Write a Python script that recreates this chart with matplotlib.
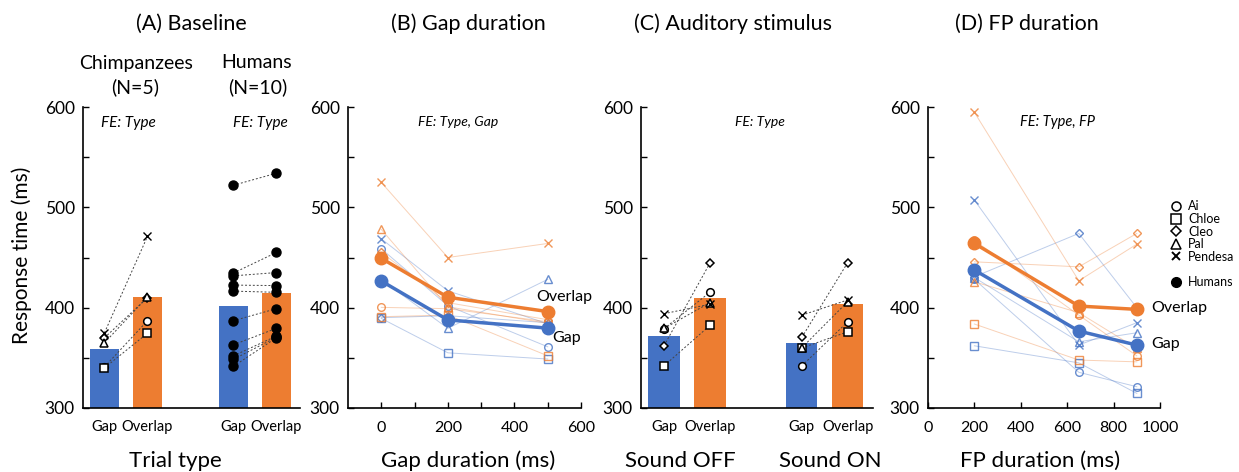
import matplotlib
matplotlib.use('Agg')
import matplotlib.pyplot as plt
from matplotlib.lines import Line2D
from matplotlib.ticker import MultipleLocator, FixedLocator

plt.rcParams['font.family'] = ['Lato', 'DejaVu Sans']

BLUE = '#4472C4'
ORANGE = '#ED7D31'

##########################################################
#_______________________Data_____________________________#

chimps = ['Ai', 'Chloe', 'Cleo', 'Pal', 'Pendesa']
chimp_markers = ['o', 's', 'D', '^', 'x']

# (A) Baseline
chimp_gap = [341, 340, 370, 365, 375]
chimp_ovl = [387, 374.5, 410, 410.6, 471]
chimp_bars = [359, 410.6]
human_gap = [522, 434.5, 431.7, 422.5, 416.5, 387, 363, 352, 348.5, 341.5]
human_ovl = [534, 455, 435, 422, 415.3, 399, 379.4, 371.7, 370.5, 370]
human_bars = [402, 415]
trial_labels = ['Gap', 'Overlap', 'Gap', 'Overlap']

# (B) Gap duration
gap_durations = [0, 200, 500]
gapB_ind = [[458.7, 401.9, 361], [389.3, 355, 348.8], [390, 392, 385],
            [428, 379.4, 428.2], [468.6, 416.8, 384]]
ovlB_ind = [[400.3, 399, 386], [391, 392.6, 352], [455, 405, 388],
            [478, 400.9, 384.4], [524.8, 450, 464]]
gapB_mean = [426.6, 387.8, 379.6]
ovlB_mean = [449.2, 410.4, 396.1]

# (C) Auditory stimulus
off_gap = [379, 342, 362, 379.3, 394]
off_ovl = [415.3, 382.3, 444.4, 405, 403.4]
on_gap = [342, 359.8, 370.4, 360, 392.5]
on_ovl = [385.9, 376, 445, 406, 407.7]
off_bars = [371.4, 409.7]
on_bars = [364.8, 404.1]

# (D) FP duration
fp_durations = [200, 650, 900]
gapD_ind = [[428.2, 335.6, 321.2], [362, 345, 314.6], [430.8, 474, 400],
            [430, 366, 375], [507.2, 362.7, 385]]
ovlD_ind = [[467, 392.6, 352], [383.7, 347.8, 346], [445.7, 440.7, 474],
            [425.8, 395, 359.5], [594.7, 426.8, 463.3]]
gapD_mean = [437.5, 376.7, 362.7]
ovlD_mean = [464, 401.6, 398.3]

##########################################################

W, H = 1239, 472
fig = plt.figure(figsize=(W / 100, H / 100), dpi=100)


def add_ax(left_px, right_px):
    return fig.add_axes([left_px / W, (H - 408) / H, (right_px - left_px) / W, 301 / H])


def style_y(ax):
    ax.set_ylim(300, 600)
    ax.yaxis.set_major_locator(MultipleLocator(100))
    ax.yaxis.set_minor_locator(MultipleLocator(50))
    ax.spines['top'].set_visible(False)
    ax.spines['right'].set_visible(False)
    for s in ['left', 'bottom']:
        ax.spines[s].set_linewidth(1.2)
    ax.tick_params(axis='both', which='both', direction='in', length=4, width=1, labelsize=12.5)
    ax.tick_params(axis='y', pad=6)


def bar_panel(ax, bars_left, bars_right):
    pos = [0, 1, 3, 4]
    heights = bars_left + bars_right
    ax.bar(pos, [h - 300 for h in heights], bottom=300, width=0.68,
           color=[BLUE, ORANGE, BLUE, ORANGE], zorder=1)
    ax.set_xlim(-0.5, 4.55)
    ax.set_xticks(pos)
    ax.set_xticklabels(trial_labels, fontsize=10.5)
    ax.tick_params(axis='x', length=0, pad=9)


def chimp_pairs(ax, x0, x1, g, o):
    for i in range(len(chimps)):
        ax.plot([x0, x1], [g[i], o[i]], ls=(0, (2, 2)), color='#444444', lw=0.7, zorder=2)
    for i, m in enumerate(chimp_markers):
        kw = dict(mfc='white', mec='black', ms=5.5, mew=1.1, ls='none', zorder=3)
        if m == 'x':
            kw = dict(color='black', ms=6, mew=1.0, ls='none', zorder=3)
        if m == 'D':
            kw['ms'] = 4.5
        ax.plot([x0, x1], [g[i], o[i]], marker=m, **kw)


def line_panel(ax, xs, gap_ind, ovl_ind, gap_mean, ovl_mean):
    for ind, col in [(gap_ind, BLUE), (ovl_ind, ORANGE)]:
        for i, m in enumerate(chimp_markers):
            ax.plot(xs, ind[i], color=col, lw=0.7, alpha=0.35, zorder=2)
            if m == 'x':
                ax.plot(xs, ind[i], ls='none', marker='x', color=col, ms=6, mew=1.0, alpha=0.8, zorder=3)
            else:
                ax.plot(xs, ind[i], ls='none', marker=m, mfc='none', mec=col,
                        ms=4.5 if m == 'D' else 5.5, mew=1.0, alpha=0.8, zorder=3)
    ax.plot(xs, gap_mean, color=BLUE, lw=2.5, marker='o', ms=9, zorder=5)
    ax.plot(xs, ovl_mean, color=ORANGE, lw=2.5, marker='o', ms=9, zorder=5)


# (A) Baseline
axA = add_ax(83, 300)
style_y(axA)
bar_panel(axA, chimp_bars, human_bars)
chimp_pairs(axA, 0, 1, chimp_gap, chimp_ovl)
for g, o in zip(human_gap, human_ovl):
    axA.plot([3, 4], [g, o], ls=(0, (2, 2)), color='#444444', lw=0.7, zorder=2)
axA.plot([3] * len(human_gap), human_gap, 'o', color='black', ms=6.5, zorder=3)
axA.plot([4] * len(human_ovl), human_ovl, 'o', color='black', ms=6.5, zorder=3)
axA.text(0.207, 0.946, 'FE: Type', transform=axA.transAxes, ha='center', va='center',
         style='italic', fontsize=11)
axA.text(0.816, 0.946, 'FE: Type', transform=axA.transAxes, ha='center', va='center',
         style='italic', fontsize=11)

# (B) Gap duration
axB = add_ax(348, 581)
style_y(axB)
axB.set_xlim(-100, 600)
axB.xaxis.set_major_locator(FixedLocator([0, 200, 400, 600]))
axB.xaxis.set_minor_locator(FixedLocator([100, 300, 500]))
axB.tick_params(axis='x', labelsize=11.5, pad=9)
line_panel(axB, gap_durations, gapB_ind, ovlB_ind, gapB_mean, ovlB_mean)
axB.text(467, 410.6, 'Overlap', fontsize=11.5, va='center', ha='left', zorder=6)
axB.text(515, 369.5, 'Gap', fontsize=11.5, va='center', ha='left', zorder=6)
axB.text(0.472, 0.95, 'FE: Type, Gap', transform=axB.transAxes, ha='center', va='center',
         style='italic', fontsize=10)

# (C) Auditory stimulus
axC = add_ax(641, 873)
style_y(axC)
bar_panel(axC, off_bars, on_bars)
chimp_pairs(axC, 0, 1, off_gap, off_ovl)
chimp_pairs(axC, 3, 4, on_gap, on_ovl)
axC.text(0.513, 0.95, 'FE: Type', transform=axC.transAxes, ha='center', va='center',
         style='italic', fontsize=10)

# (D) FP duration
axD = add_ax(928, 1160)
style_y(axD)
axD.set_xlim(0, 1000)
axD.xaxis.set_major_locator(MultipleLocator(200))
axD.tick_params(axis='x', labelsize=11.5, pad=9)
line_panel(axD, fp_durations, gapD_ind, ovlD_ind, gapD_mean, ovlD_mean)
axD.text(963, 399.6, 'Overlap', fontsize=11.5, va='center', ha='left', clip_on=False)
axD.text(963, 363.7, 'Gap', fontsize=11.5, va='center', ha='left', clip_on=False)
axD.text(0.56, 0.95, 'FE: Type, FP', transform=axD.transAxes, ha='center', va='center',
         style='italic', fontsize=10.5)

# legend for individuals
handles = []
for name, m in zip(chimps, chimp_markers):
    if m == 'x':
        handles.append(Line2D([], [], ls='none', marker='x', color='black', ms=5.5, mew=1.4, label=name))
    else:
        handles.append(Line2D([], [], ls='none', marker=m, mfc='none', mec='black',
                              ms=5 if m == 'D' else 6.5, mew=1.1, label=name))
handles.append(Line2D([], [], ls='none', label=' '))
handles.append(Line2D([], [], ls='none', marker='o', color='black', ms=7, label='Humans'))
fig.legend(handles=handles, loc='upper left', bbox_to_anchor=(1163 / W, 1 - 194 / H),
           frameon=False, fontsize=9, handlelength=1.0, handletextpad=0.5,
           labelspacing=0.05, borderpad=0)

# titles and labels
title_kw = dict(fontsize=15.5, ha='center', va='center')
fig.text(191 / W, 1 - 24 / H, '(A) Baseline', **title_kw)
fig.text(468 / W, 1 - 24 / H, '(B) Gap duration', **title_kw)
fig.text(733 / W, 1 - 24 / H, '(C) Auditory stimulus', **title_kw)
fig.text(1027 / W, 1 - 24 / H, '(D) FP duration', **title_kw)

fig.text(136 / W, 1 - 63 / H, 'Chimpanzees', fontsize=14, ha='center', va='center')
fig.text(135 / W, 1 - 87 / H, '(N=5)', fontsize=14, ha='center', va='center')
fig.text(257 / W, 1 - 63 / H, 'Humans', fontsize=14, ha='center', va='center')
fig.text(258 / W, 1 - 87 / H, '(N=10)', fontsize=14, ha='center', va='center')

xl_kw = dict(fontsize=16, ha='center', va='center')
fig.text(175 / W, 1 - 461 / H, 'Trial type', **xl_kw)
fig.text(468 / W, 1 - 461 / H, 'Gap duration (ms)', **xl_kw)
fig.text(680 / W, 1 - 461 / H, 'Sound OFF', **xl_kw)
fig.text(830 / W, 1 - 461 / H, 'Sound ON', **xl_kw)
fig.text(1040 / W, 1 - 461 / H, 'FP duration (ms)', **xl_kw)
fig.text(22 / W, 1 - 255 / H, 'Response time (ms)', rotation=90, fontsize=15, ha='center', va='center')

fig.savefig('out.png', dpi=100)
